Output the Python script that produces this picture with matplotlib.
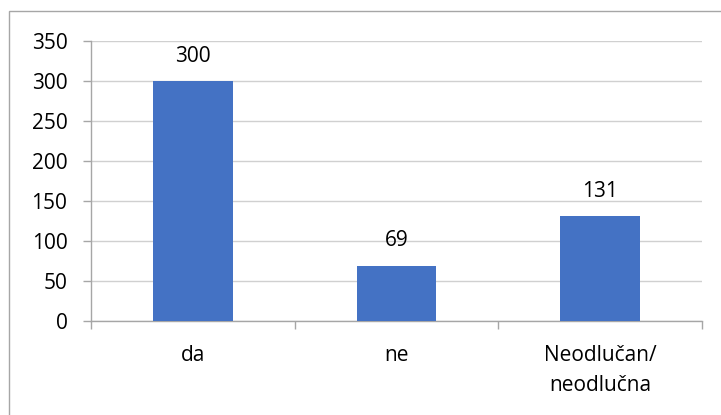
import matplotlib
matplotlib.use("Agg")
import matplotlib.pyplot as plt
from matplotlib.patches import Rectangle

categories = ["da", "ne", "Neodlučan/\nneodlučna"]
values = [300, 69, 131]
yticks = [0, 50, 100, 150, 200, 250, 300, 350]

W, H = 721, 415
fig = plt.figure(figsize=(W / 100, H / 100), dpi=100)
plt.rcParams['font.family'] = ['Open Sans', 'DejaVu Sans']
FS = 15

# outer chart border
fig.patches.append(Rectangle((9 / W, 0 - 0.01), 1.0, 1 - 11 / H + 0.01,
                             transform=fig.transFigure, fill=False,
                             edgecolor="#a6a6a6", linewidth=1.0))

left, right, top, bottom = 91, 702, 41, 321
ax = fig.add_axes([left / W, 1 - bottom / H, (right - left) / W, (bottom - top) / H])

x = range(len(categories))
ax.bar(x, values, width=0.39, color="#4472C4", zorder=3)
for xi, v in zip(x, values):
    ax.annotate(str(v), (xi, v), xytext=(0, 14), textcoords="offset points",
                ha="center", va="baseline", fontsize=FS, color="#000000")

ax.set_xlim(-0.5, 2.5)
ax.set_ylim(0, 350)
ax.set_yticks(yticks)
ax.set_yticklabels([str(t) for t in yticks], fontsize=FS)
ax.yaxis.grid(True, color="#d0d0d0", linewidth=1.0, zorder=0)
ax.tick_params(axis="y", length=6, width=1, color="#a6a6a6", pad=11)

ax.set_xticks([-0.5, 0.5, 1.5, 2.5])
ax.set_xticklabels([])
ax.tick_params(axis="x", which="major", length=6, width=1, color="#a6a6a6", direction="out")
ax.set_xticks(list(x), minor=True)
ax.set_xticklabels(categories, minor=True, fontsize=FS, linespacing=1.6)
ax.tick_params(axis="x", which="minor", length=0, pad=17)

for s in ["top", "right"]:
    ax.spines[s].set_visible(False)
for s in ["left", "bottom"]:
    ax.spines[s].set_color("#a6a6a6")
    ax.spines[s].set_linewidth(1.0)

fig.savefig("out.png", dpi=100, facecolor="white")
